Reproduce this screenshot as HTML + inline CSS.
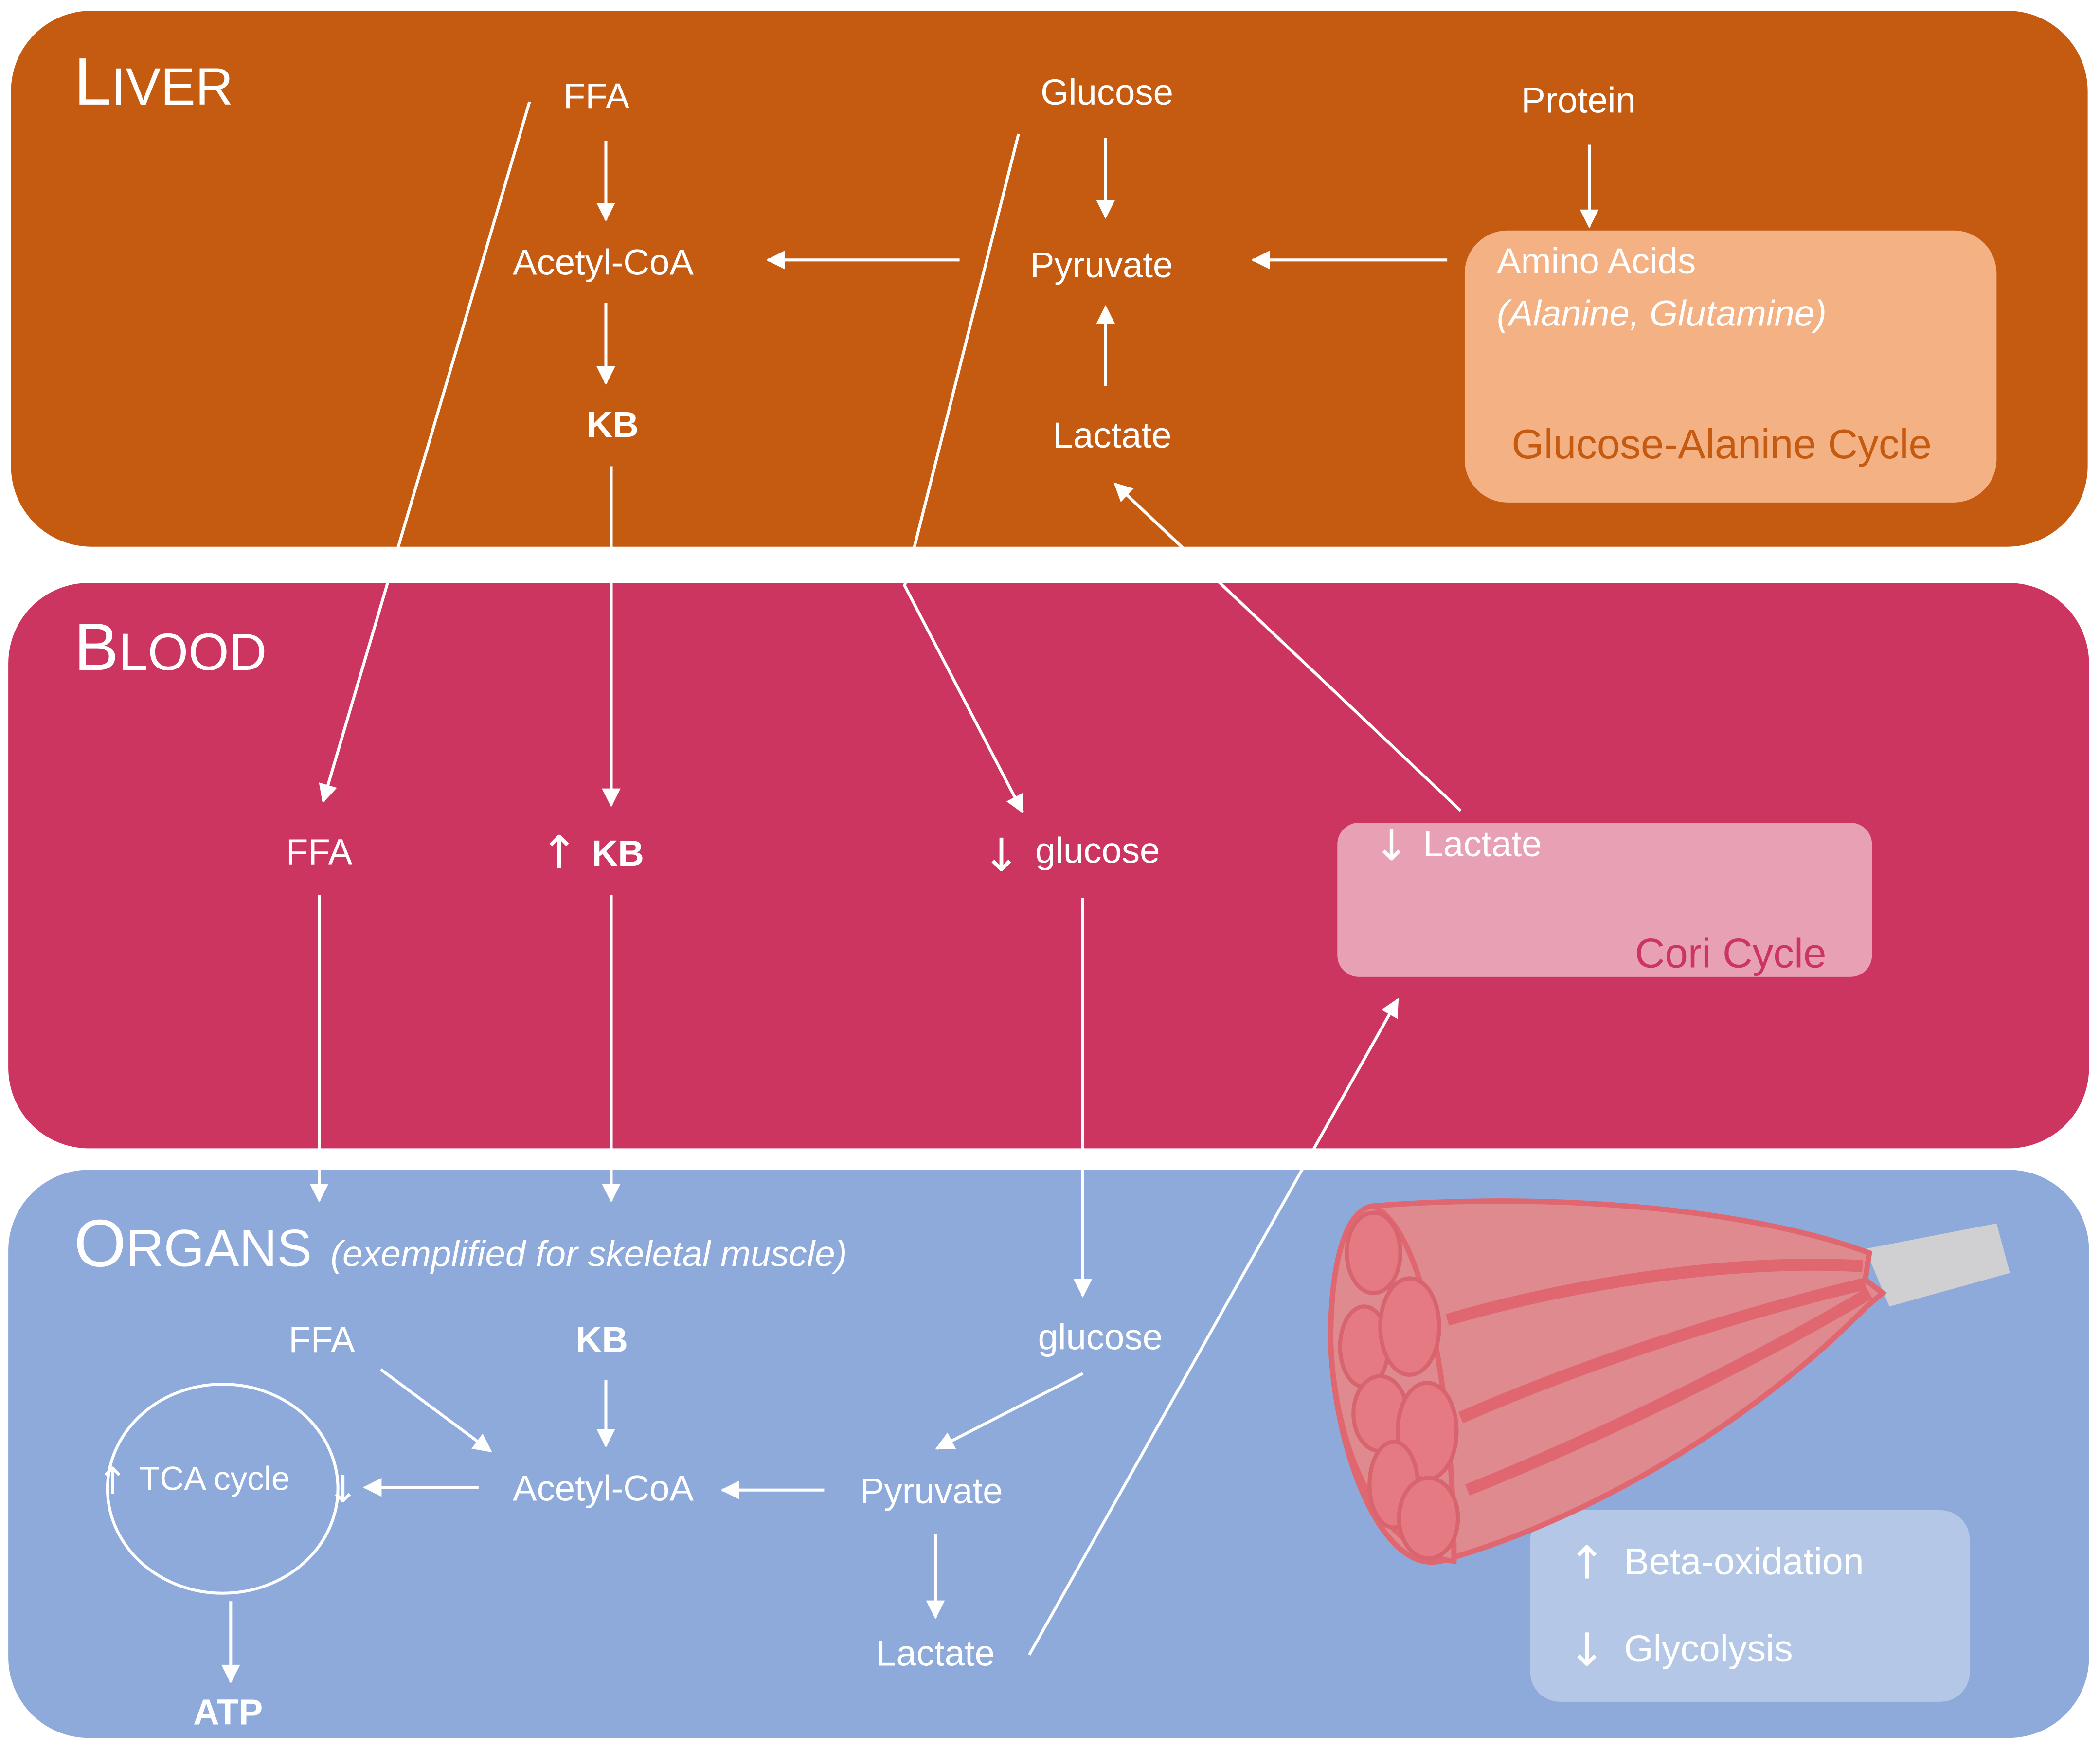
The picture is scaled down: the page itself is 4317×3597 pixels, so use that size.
<!DOCTYPE html>
<html><head><meta charset="utf-8"><style>
html,body{margin:0;padding:0;background:#fff;}
svg{display:block;}
text{font-family:"Liberation Sans Narrow","Liberation Sans",sans-serif;fill:#fff;}
.ar{font-family:"DejaVu Sans",sans-serif;}
</style></head><body>
<svg width="4317" height="3597" viewBox="0 0 1567 1306" xmlns="http://www.w3.org/2000/svg">
<defs>
<marker id="b" viewBox="0 0 10 10" refX="9" refY="5" markerWidth="16" markerHeight="14" markerUnits="userSpaceOnUse" orient="auto"><path d="M0,0 L10,5 L0,10 z" fill="#fff"/></marker>
</defs>
<rect width="1567" height="1306" fill="#fff"/>
<rect x="8" y="8" width="1550" height="400" rx="60" fill="#C55A11"/>
<rect x="6" y="435" width="1553" height="422" rx="60" fill="#CD3561"/>
<rect x="6" y="873" width="1553" height="424" rx="60" fill="#8EAADB"/>

<rect x="1093" y="172" width="397" height="203" rx="32" fill="#F4B183"/>
<rect x="998" y="614" width="399" height="115" rx="16" fill="#E8A0B4"/>
<rect x="1142" y="1127" width="328" height="143" rx="22" fill="#B4C7E7"/>

<text x="55" y="78" font-size="50">L<tspan font-size="39">IVER</tspan></text>
<text x="55" y="500" font-size="50">B<tspan font-size="39">LOOD</tspan></text>
<text x="55" y="945" font-size="50">O<tspan font-size="39">RGANS</tspan> <tspan font-size="27" font-style="italic">(exemplified for skeletal muscle)</tspan></text>

<g font-size="27" text-anchor="middle">
<text x="445" y="81">FFA</text>
<text x="450" y="205">Acetyl-CoA</text>
<text x="457" y="326" font-weight="bold">KB</text>
<text x="826" y="78">Glucose</text>
<text x="822" y="207">Pyruvate</text>
<text x="830" y="334">Lactate</text>
<text x="1178" y="84">Protein</text>
</g>
<text x="1117" y="204" font-size="27">Amino Acids</text>
<text x="1117" y="243" font-size="27" font-style="italic">(Alanine, Glutamine)</text>
<text x="1128" y="342" font-size="31" style="fill:#C55A11">Glucose-Alanine Cycle</text>

<g stroke="#fff" stroke-width="2.2" fill="none">
<line x1="452" y1="105" x2="452" y2="164" marker-end="url(#b)"/>
<line x1="452" y1="226" x2="452" y2="286" marker-end="url(#b)"/>
<line x1="825" y1="103" x2="825" y2="162" marker-end="url(#b)"/>
<line x1="716" y1="194" x2="573" y2="194" marker-end="url(#b)"/>
<line x1="1080" y1="194" x2="935" y2="194" marker-end="url(#b)"/>
<line x1="1186" y1="108" x2="1186" y2="169" marker-end="url(#b)"/>
<line x1="825" y1="288" x2="825" y2="229" marker-end="url(#b)"/>
<line x1="395" y1="76" x2="241" y2="598" marker-end="url(#b)"/>
<polyline points="760,100 675,437 763,606" marker-end="url(#b)"/>
<line x1="456" y1="348" x2="456" y2="601" marker-end="url(#b)"/>
<line x1="1090" y1="605" x2="832" y2="361" marker-end="url(#b)"/>
<line x1="238" y1="668" x2="238" y2="896" marker-end="url(#b)"/>
<line x1="456" y1="668" x2="456" y2="896" marker-end="url(#b)"/>
<line x1="808" y1="670" x2="808" y2="967" marker-end="url(#b)"/>
<line x1="768" y1="1235" x2="1043" y2="746" marker-end="url(#b)"/>
<line x1="284" y1="1022" x2="366" y2="1083" marker-end="url(#b)"/>
<line x1="452" y1="1030" x2="452" y2="1079" marker-end="url(#b)"/>
<line x1="808" y1="1025" x2="699" y2="1081" marker-end="url(#b)"/>
<line x1="615" y1="1112" x2="539" y2="1112" marker-end="url(#b)"/>
<line x1="357" y1="1110" x2="272" y2="1110" marker-end="url(#b)"/>
<line x1="698" y1="1145" x2="698" y2="1207" marker-end="url(#b)"/>
<line x1="172" y1="1195" x2="172" y2="1255" marker-end="url(#b)"/>
<ellipse cx="166" cy="1111" rx="86" ry="78"/>
</g>

<g font-size="27" text-anchor="middle">
<text x="238" y="645">FFA</text>
<text x="461" y="646" font-weight="bold">KB</text>
<text x="819" y="644">glucose</text>
</g>
<text class="ar" x="403" y="648" font-size="34">↑</text>
<text class="ar" x="733" y="650" font-size="34">↓</text>
<text class="ar" x="1025" y="642" font-size="32">↓</text>
<text x="1062" y="639" font-size="27">Lactate</text>
<text x="1220" y="722" font-size="31" style="fill:#CD3561">Cori Cycle</text>

<g font-size="27" text-anchor="middle">
<text x="240" y="1009">FFA</text>
<text x="449" y="1009" font-weight="bold">KB</text>
<text x="821" y="1007">glucose</text>
<text x="450" y="1120">Acetyl-CoA</text>
<text x="695" y="1122">Pyruvate</text>
<text x="698" y="1243">Lactate</text>
<text x="160" y="1112" font-size="25">TCA cycle</text>
<text x="170" y="1287" font-weight="bold">ATP</text>
</g>
<text class="ar" x="72" y="1115" font-size="28">↑</text>
<text class="ar" x="244" y="1121" font-size="28">↓</text>
<text class="ar" x="1170" y="1178" font-size="34">↑</text>
<text x="1212" y="1175" font-size="28">Beta-oxidation</text>
<text class="ar" x="1170" y="1243" font-size="34">↓</text>
<text x="1212" y="1240" font-size="28">Glycolysis</text>

<path d="M1392,932 L1490,913 L1500,950 L1410,975 Z" fill="#D0CFD2"/>
<path d="M1025,900 C1150,890 1300,900 1395,935 L1392,955 L1405,965 L1393,975 C1320,1050 1200,1130 1075,1165 C1030,1175 995,1080 993,1000 C993,940 1005,902 1025,900 Z" fill="#DE8A8E" stroke="#E06670" stroke-width="4"/>
<g stroke="#E06670" stroke-width="9" fill="none">
<path d="M1080,985 C1200,950 1320,940 1390,945"/>
<path d="M1090,1058 C1200,1010 1320,975 1392,958"/>
<path d="M1095,1112 C1200,1070 1320,1010 1395,965"/>
</g>
<path d="M1025,900 C1065,920 1085,1050 1085,1165 C1030,1160 995,1080 993,1000 C993,940 1005,902 1025,900 Z" fill="#DE8A8E" stroke="#E06670" stroke-width="4"/>
<g fill="#E57A82" stroke="#D86470" stroke-width="3">
<ellipse cx="1025" cy="935" rx="20" ry="30"/>
<ellipse cx="1018" cy="1005" rx="18" ry="30"/>
<ellipse cx="1052" cy="990" rx="22" ry="36"/>
<ellipse cx="1030" cy="1055" rx="20" ry="28"/>
<ellipse cx="1065" cy="1068" rx="22" ry="36"/>
<ellipse cx="1040" cy="1108" rx="18" ry="32"/>
<ellipse cx="1066" cy="1133" rx="22" ry="30"/>
</g>
</svg>
</body></html>
